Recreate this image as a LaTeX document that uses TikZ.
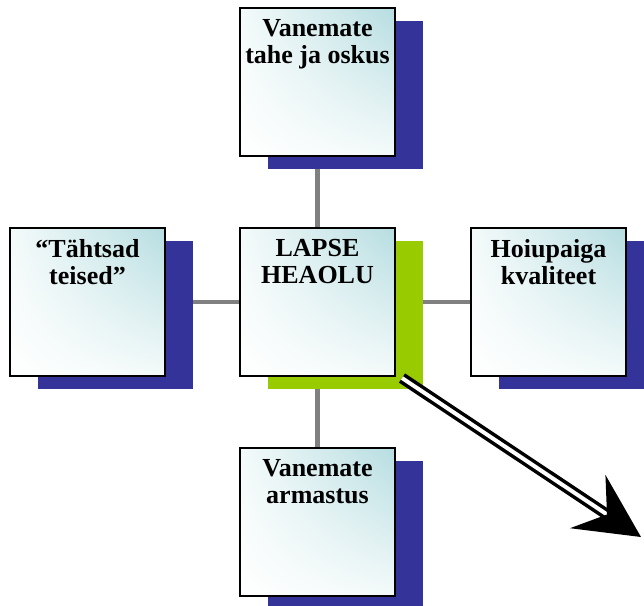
\documentclass[tikz,border=0pt]{standalone}
\usepackage{fontspec}
\setmainfont{Liberation Serif}
\usetikzlibrary{backgrounds,shadings}
\definecolor{shblue}{HTML}{333399}
\definecolor{shgreen}{HTML}{99CC00}
\definecolor{boxtint}{HTML}{B6DDE1}
\definecolor{boxmid}{HTML}{F4FAFA}
\definecolor{conngray}{HTML}{808080}
\tikzset{
  box/.style={draw=black, line width=1.8pt, shade, upper left=boxmid, upper right=boxtint,
    lower left=white, lower right=boxmid, minimum width=155pt, minimum height=148pt, inner sep=0pt},
  shadowbox/.style={fill=#1, draw=none, minimum width=155pt, minimum height=148pt, inner sep=0pt},
  lab/.style={anchor=north, align=center, inner sep=0pt, font=\fontsize{26}{27}\selectfont\bfseries},
  conn/.style={draw=conngray, line width=4.5pt},
  shaft/.style={draw=black, line width=3.5pt, double=white, double distance=4pt}
}
\begin{document}
\begin{tikzpicture}[x=1pt,y=-1pt]
\clip (0,0) rectangle (644,605);
% shadows
\node[shadowbox=shblue] (tops) at (345,95) {};
\node[shadowbox=shblue] (lefts) at (115,315) {};
\node[shadowbox=shgreen] (centers) at (345,315) {};
\node[shadowbox=shblue] (rights) at (576,315) {};
\node[shadowbox=shblue] (bottoms) at (345,535) {};
% boxes
\node[box] (top) at (317.5,82) {};
\node[box] (left) at (87.5,302) {};
\node[box] (center) at (317.5,302) {};
\node[box] (right) at (548.5,302) {};
\node[box] (bottom) at (317.5,522) {};
% labels
\node[lab] (toplab) at ([yshift=-12pt]top.north) {Vanemate\\tahe ja oskus};
\node[lab] (leftlab) at ([yshift=-12pt]left.north) {“Tähtsad\\teised”};
\node[lab] (centerlab) at ([yshift=-12pt]center.north) {LAPSE\\HEAOLU};
\node[lab] (rightlab) at ([yshift=-12pt]right.north) {Hoiupaiga\\kvaliteet};
\node[lab] (bottomlab) at ([yshift=-12pt]bottom.north) {Vanemate\\armastus};
% connectors
\begin{scope}[on background layer]
\draw[conn] (top) -- (center);
\draw[conn] (center) -- (bottom);
\draw[conn] (left) -- (center);
\draw[conn] (center) -- (right);
\end{scope}
% arrow
\coordinate (astart) at (402,378);
\coordinate (anotch) at (609,515.8);
\coordinate (atip) at (641,537);
\coordinate (aback1) at (605.4,474.8);
\coordinate (aback2) at (570,528.2);
\draw[shaft] (astart) -- (anotch);
\fill[black] (atip) -- (aback1) -- ([shift={(-2,-1.3)}]anotch) -- (aback2) -- cycle;
\end{tikzpicture}
\end{document}
